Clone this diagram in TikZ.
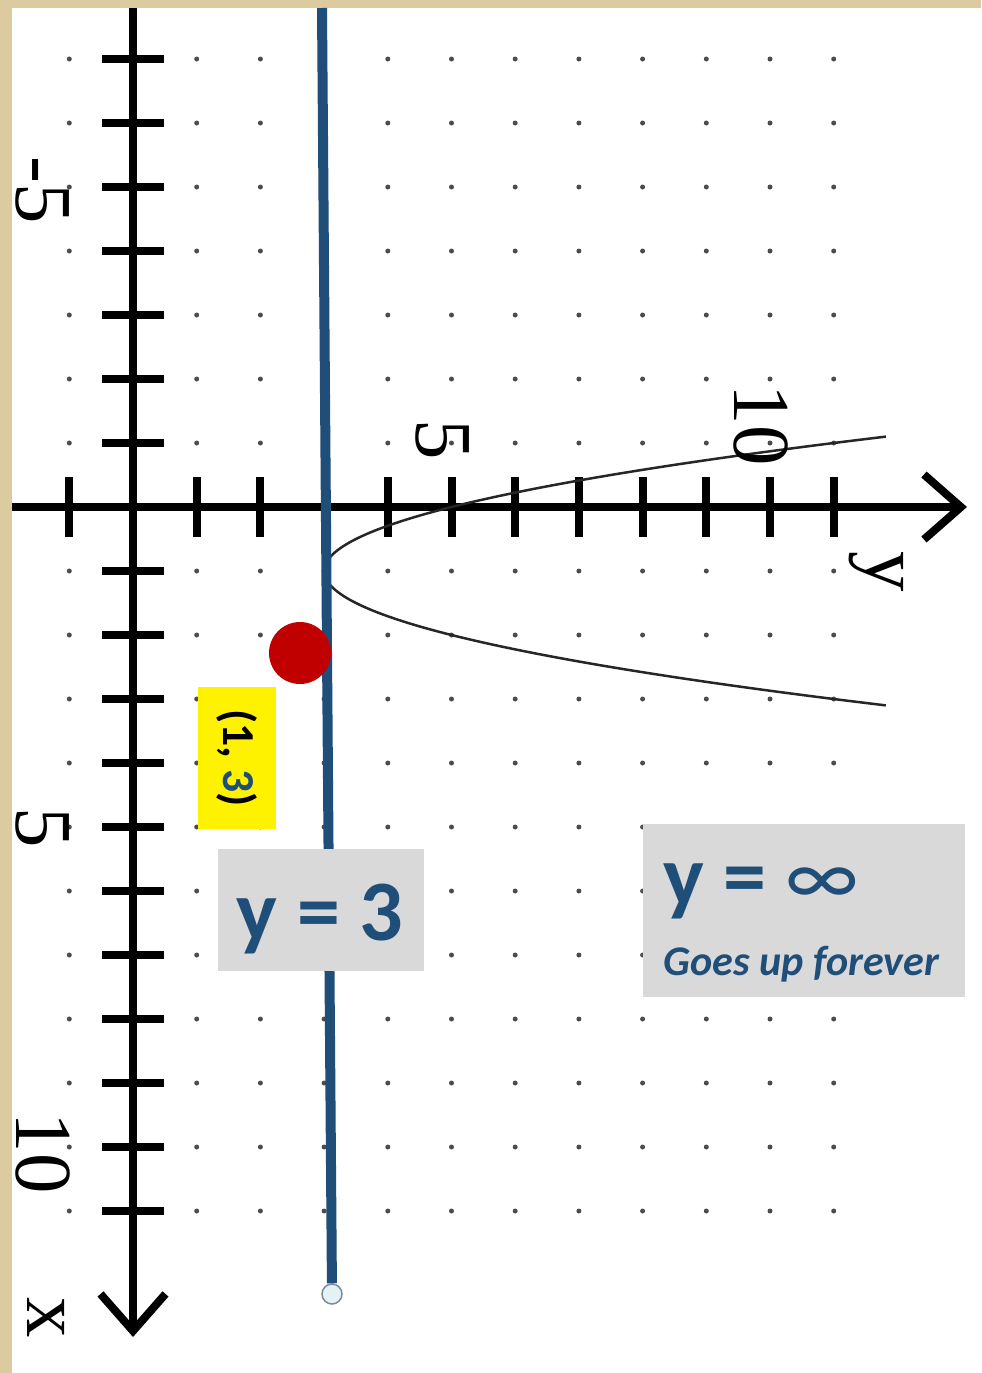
\documentclass[tikz,border=0pt]{standalone}
\usepackage{fontspec}
\setmainfont{Liberation Serif}
\newfontfamily\calibri{Carlito}
\definecolor{parchment}{RGB}{221,203,160}
\definecolor{darkblue}{RGB}{31,78,121}
\definecolor{boxgray}{RGB}{217,217,217}
\definecolor{pointred}{RGB}{192,0,0}
\definecolor{endfill}{RGB}{228,242,246}
\definecolor{endgray}{RGB}{125,140,150}
\usetikzlibrary{arrows.meta, positioning}

\begin{document}
\begin{tikzpicture}[x=0.02cm, y=-0.02cm,
    axisline/.style={line width=0.16cm, black,
                     -{Straight Barb[length=0.74cm, width=1.3cm]}},
    tickmark/.style={line width=0.16cm, black},
    axlabel/.style={rotate=-90, inner sep=0pt, font=\fontsize{46}{46}\selectfont},
    graybox/.style={rectangle, fill=boxgray, inner sep=0pt},
    bigtext/.style={inner sep=0pt, text=darkblue,
                    font=\calibri\bfseries\fontsize{49}{50}\selectfont}
]
    % paper
    \fill[parchment] (0,0) rectangle (981,1373);
    \fill[white] (12,8) rectangle (981,1373);
    \useasboundingbox (0,0) rectangle (981,1373);

    % dot grid
    \foreach \k in {-1,1,2,...,11}
        \foreach \j in {-7,...,-1,1,2,...,11}
            \fill[black!70] ({133+63.7*\k},{507+64*\j}) circle (0.05cm);

    % axes
    \coordinate (yaxisstart) at (12,507);
    \coordinate (yaxisend) at (967,507);
    \coordinate (xaxisstart) at (133,8);
    \coordinate (xaxisend) at (133,1337);
    \draw[axisline] (yaxisstart) -- (yaxisend);
    \draw[axisline] (xaxisstart) -- (xaxisend);
    \foreach \k in {-1,1,2,4,5,...,11}
        \draw[tickmark] ({133+63.7*\k},477) -- ({133+63.7*\k},537);
    \foreach \j in {-7,...,-1,1,2,...,11}
        \draw[tickmark] (102,{507+64*\j}) -- (164,{507+64*\j});

    % parabola
    \draw[line width=0.05cm, black!85, domain=-1.1:3.1, samples=60, smooth, variable=\t]
        plot ({133+63.7*(3+2*(\t-1)^2)}, {507+64*\t});

    % axis labels
    \node[axlabel] (xneg5) at (43,190) {-5};
    \node[axlabel] (xpos5) at (43,828) {5};
    \node[axlabel] (xpos10) at (43,1153) {10};
    \node[axlabel] (xname) at (46,1318) {x};
    \node[axlabel] (ypos5) at (443,440) {5};
    \node[axlabel] (ypos10) at (761,425) {10};
    \node[axlabel] (yname) at (876,572) {y};

    % the line y = 3
    \coordinate (linetop) at (322,8);
    \node[circle, draw=endgray, fill=endfill, line width=0.03cm,
          minimum size=0.4cm, inner sep=0pt] (lineend) at (332,1294) {};
    \draw[line width=0.2cm, darkblue] (linetop) -- (lineend);

    % vertex
    \node[circle, fill=pointred, minimum size=1.24cm, inner sep=0pt] (vertex) at (300,653) {};
    \node[fill=yellow, rotate=-90, minimum width=2.84cm, minimum height=1.56cm,
          font=\calibri\bfseries\fontsize{26}{26}\selectfont] (vertexlabel) at (237,758)
          {(1, \textcolor{darkblue}{3})};

    % notes
    \node[graybox, minimum width=4.12cm, minimum height=2.44cm] (linebox) at (321,910) {};
    \node[bigtext, anchor=base] (linetext) at (320,940) {y = 3};

    \node[graybox, minimum width=6.44cm, minimum height=3.46cm] (infbox) at (804,910.5) {};
    \node[bigtext, anchor=base west] (inftext) at (663,905) {y = {\mdseries ∞}};
    \node[inner sep=0pt, text=darkblue, font=\calibri\bfseries\itshape\fontsize{24}{25}\selectfont,
          below=1.4cm of inftext.base west, anchor=base west] (infnote) {Goes up forever};
\end{tikzpicture}
\end{document}
